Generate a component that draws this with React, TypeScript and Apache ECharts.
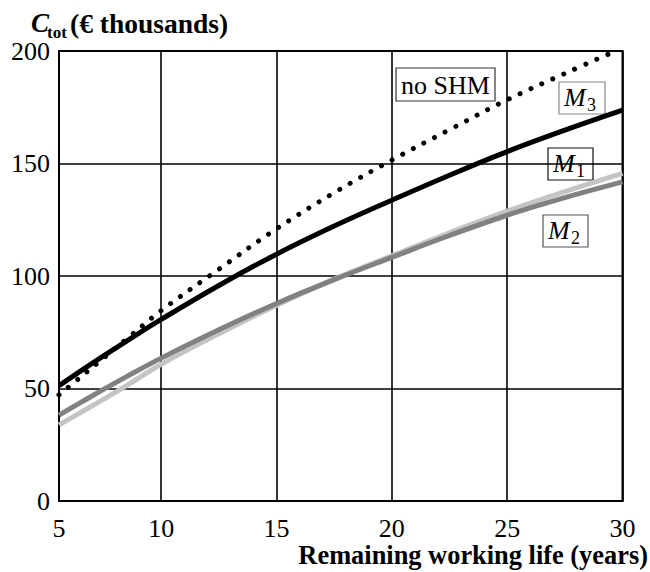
import React, { useEffect, useRef } from "react";
import * as echarts from "echarts";

// Axis extent (left border is labelled "5")
const X_MIN = 5.57;
const X_MAX = 30;
const yTicks = [0, 50, 100, 150, 200];

// Sample x positions (years)
const xs = [5.57, 6.5, 7.5, 8.5, 10, 12.5, 15, 17.5, 20, 22.5, 25, 27.5, 30];
const xsNoShm = [5.57, 6.5, 7.5, 8.5, 10, 12.5, 15, 17.5, 20, 22.5, 25, 27.5, 29.7];

// Series values (€ thousands)
const noShm = [47.2, 55, 63.5, 72, 84.6, 103, 121, 137, 151.5, 165, 178.3, 190, 200];
const m3 = [51.2, 57.7, 64.5, 71.1, 80.7, 95.8, 109.7, 122.2, 133.7, 144.8, 155.3, 164.8, 173.7];
const m1 = [33.8, 39.3, 45.2, 51.3, 60.8, 74.3, 87, 98.6, 109, 119.2, 128.8, 137.5, 145.6];
const m2 = [38.2, 43.7, 49.6, 55.3, 63.5, 76.1, 87.8, 98.4, 108.3, 118, 127, 134.8, 141.8];

const FONT = "Liberation Serif, Times New Roman, serif";

function pairs(x: number[], y: number[]) {
  return x.map((v, i) => [v, y[i]]);
}

function labelBox(x: number, y: number, w: number, h: number, main: string, sub: string | null, border: string) {
  const children: any[] = [
    {
      type: "rect",
      shape: { x, y, width: w, height: h },
      style: { fill: "#fff", stroke: border, lineWidth: 1.2 },
    },
  ];
  if (sub === null) {
    children.push({
      type: "text",
      style: {
        text: main,
        x: x + w / 2,
        y: y + h / 2 + 1,
        align: "center",
        verticalAlign: "middle",
        fontFamily: FONT,
        fontSize: 26,
        fill: "#000",
      },
    });
  } else {
    children.push({
      type: "text",
      style: {
        text: main,
        x: x + 5,
        y: y + h / 2 - 1,
        align: "left",
        verticalAlign: "middle",
        fontFamily: FONT,
        fontStyle: "italic",
        fontSize: 26,
        fill: "#000",
      },
    });
    children.push({
      type: "text",
      style: {
        text: sub,
        x: x + 28,
        y: y + h / 2 + 7,
        align: "left",
        verticalAlign: "middle",
        fontFamily: FONT,
        fontSize: 18,
        fill: "#000",
      },
    });
  }
  return { type: "group", z: 100, children };
}

export default function App() {
  const ref = useRef<HTMLDivElement>(null);
  useEffect(() => {
    if (!ref.current) return;
    const chart = echarts.init(ref.current, null, { renderer: "svg" });
    const axisLabelStyle = { color: "#000", fontFamily: FONT, fontSize: 26 };
    chart.setOption({
      animation: false,
      backgroundColor: "#fff",
      grid: {
        left: 59,
        right: 27.5,
        top: 51,
        bottom: 71,
        show: true,
        borderColor: "#000",
        borderWidth: 2,
        backgroundColor: "transparent",
      },
      xAxis: {
        type: "value",
        min: X_MIN,
        max: X_MAX,
        splitNumber: 5,
        axisLine: { show: true, lineStyle: { color: "#000", width: 2 } },
        axisTick: { show: false },
        splitLine: { show: true, lineStyle: { color: "#000", width: 1.6 } },
        axisLabel: {
          ...axisLabelStyle,
          margin: 14,
          formatter: (v: number) => (Math.abs(v - X_MIN) < 0.01 ? "5" : String(v)),
        },
      },
      yAxis: {
        type: "value",
        min: yTicks[0],
        max: yTicks[yTicks.length - 1],
        interval: 50,
        axisLine: { show: true, lineStyle: { color: "#000", width: 2 } },
        axisTick: { show: false },
        splitLine: { show: true, lineStyle: { color: "#000", width: 1.6 } },
        axisLabel: { ...axisLabelStyle, margin: 9 },
      },
      series: [
        {
          name: "M1",
          type: "line",
          smooth: 0.4,
          symbol: "none",
          data: pairs(xs, m1),
          lineStyle: { color: "#c4c4c4", width: 5 },
          z: 2,
        },
        {
          name: "M2",
          type: "line",
          smooth: 0.4,
          symbol: "none",
          data: pairs(xs, m2),
          lineStyle: { color: "#818181", width: 5 },
          z: 3,
        },
        {
          name: "M3",
          type: "line",
          smooth: 0.4,
          symbol: "none",
          data: pairs(xs, m3),
          lineStyle: { color: "#000", width: 5 },
          z: 4,
        },
        {
          name: "no SHM",
          type: "line",
          smooth: 0.4,
          symbol: "none",
          data: pairs(xsNoShm, noShm),
          lineStyle: { color: "#000", width: 5, type: [0.01, 12], cap: "round" },
          z: 5,
        },
      ],
      graphic: [
        {
          type: "text",
          style: {
            text: "C",
            x: 31,
            y: 23,
            verticalAlign: "middle",
            fontFamily: FONT,
            fontStyle: "italic",
            fontWeight: "bold",
            fontSize: 27,
            fill: "#000",
          },
        },
        {
          type: "text",
          style: {
            text: "tot",
            x: 47,
            y: 32,
            verticalAlign: "middle",
            fontFamily: FONT,
            fontWeight: "bold",
            fontSize: 17,
            fill: "#000",
          },
        },
        {
          type: "text",
          style: {
            text: "(€ thousands)",
            x: 70,
            y: 23,
            verticalAlign: "middle",
            fontFamily: FONT,
            fontWeight: "bold",
            fontSize: 27.5,
            fill: "#000",
          },
        },
        {
          type: "text",
          style: {
            text: "Remaining working life (years)",
            x: 648,
            y: 555,
            align: "right",
            verticalAlign: "middle",
            fontFamily: FONT,
            fontWeight: "bold",
            fontSize: 26.4,
            fill: "#000",
          },
        },
        labelBox(396, 68, 99, 33, "no SHM", null, "#333"),
        labelBox(559, 82, 46, 32, "M", "3", "#888"),
        labelBox(548, 148, 45, 32, "M", "1", "#111"),
        labelBox(543, 215, 45, 32, "M", "2", "#555"),
      ],
    });
    return () => chart.dispose();
  }, []);
  return <div ref={ref} style={{ width: 650, height: 572, position: "absolute", left: 0, top: 0 }} />;
}
